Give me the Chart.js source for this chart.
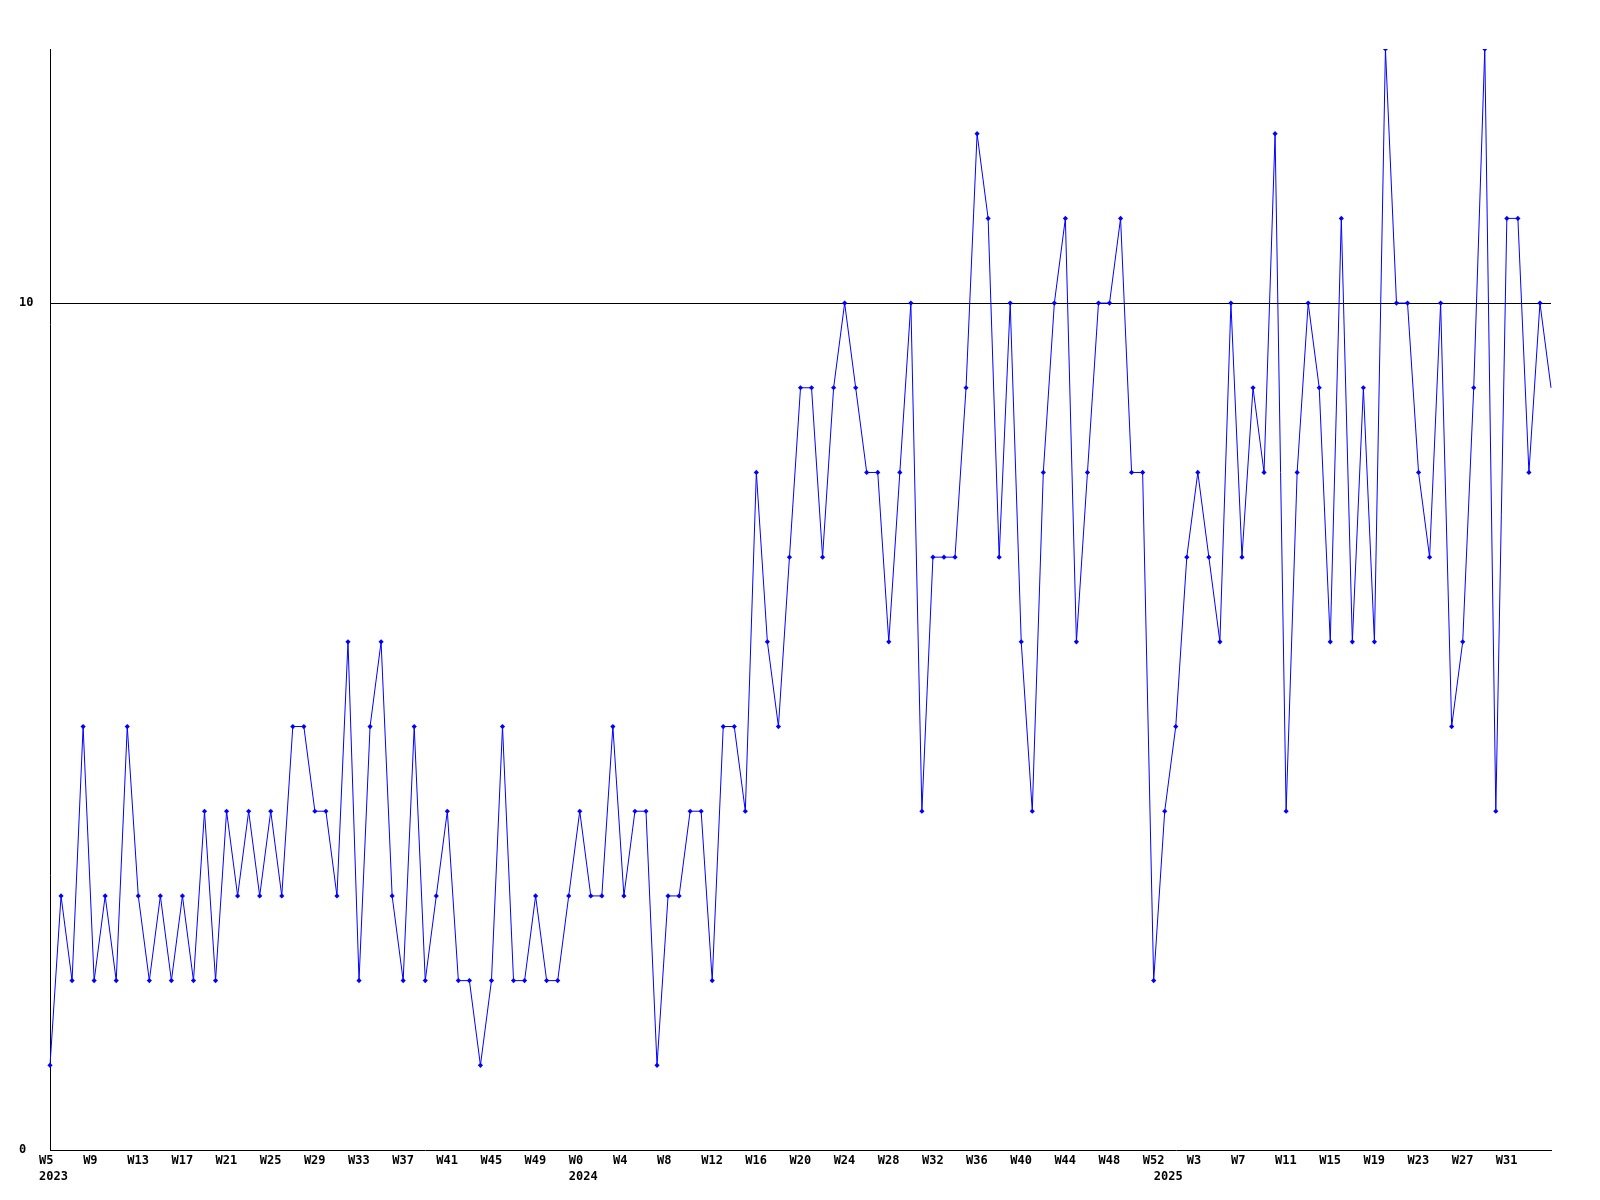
<!DOCTYPE html>
<html>
<head>
<meta charset="utf-8">
<script src="https://cdn.jsdelivr.net/npm/chart.js@4.4.1/dist/chart.umd.min.js"></script>
<style>
  html, body { margin: 0; padding: 0; background: #fff; }
  #wrap { width: 1600px; height: 1200px; }
</style>
</head>
<body>
<div id="wrap"><canvas id="weekly"></canvas></div>
<script>
// weeks on the x axis: [year, first week, last week]
const weekRanges = [[2023, 5, 52], [2024, 0, 52], [2025, 0, 35]];

// one count per week
const counts = [
  1, 3, 2, 5, 2, 3, 2, 5, 3, 2,
  3, 2, 3, 2, 4, 2, 4, 3, 4, 3,
  4, 3, 5, 5, 4, 4, 3, 6, 2, 5,
  6, 3, 2, 5, 2, 3, 4, 2, 2, 1,
  2, 5, 2, 2, 3, 2, 2, 3, 4, 3,
  3, 5, 3, 4, 4, 1, 3, 3, 4, 4,
  2, 5, 5, 4, 8, 6, 5, 7, 9, 9,
  7, 9, 10, 9, 8, 8, 6, 8, 10, 4,
  7, 7, 7, 9, 12, 11, 7, 10, 6, 4,
  8, 10, 11, 6, 8, 10, 10, 11, 8, 8,
  2, 4, 5, 7, 8, 7, 6, 10, 7, 9,
  8, 12, 4, 8, 10, 9, 6, 11, 6, 9,
  6, 13, 10, 10, 8, 7, 10, 5, 6, 9,
  13, 4, 11, 11, 8, 10, 9
];

const yTicks = [0, 10];
const yMax = 13;
const labelEvery = 4;

// category list: "2023-W5", "2023-W6", ...
const weeks = [];
weekRanges.forEach(([year, from, to]) => {
  for (let w = from; w <= to; w++) weeks.push(year + '-W' + w);
});

const font = { family: '"DejaVu Sans Mono", monospace', size: 12, weight: 'bold', lineHeight: 16 / 12 };
const last = counts.length - 1;

function tickLabel(index) {
  const [year, week] = weeks[index].split('-');
  const firstOfYear = index === 0 || weeks[index - 1].split('-')[0] !== year;
  const showWeek = index % labelEvery === 0 && index < last;
  if (firstOfYear) return [showWeek ? week : '', year];
  return showWeek ? week : '';
}

new Chart(document.getElementById('weekly'), {
  type: 'line',
  data: {
    labels: weeks,
    datasets: [{
      data: counts,
      borderColor: '#0000ff',
      backgroundColor: '#0000ff',
      borderWidth: 1,
      tension: 0,
      fill: false,
      pointStyle: 'rectRot',
      pointRadius: ctx => ctx.dataIndex === last ? 0 : 2.6,
      pointBorderWidth: 0,
      pointBackgroundColor: '#0000ff'
    }]
  },
  options: {
    responsive: true,
    maintainAspectRatio: false,
    devicePixelRatio: 1,
    animation: false,
    events: [],
    layout: { padding: { top: 49, right: 49, left: 19, bottom: 0 } },
    plugins: { legend: { display: false }, tooltip: { enabled: false } },
    scales: {
      x: {
        type: 'category',
        offset: false,
        grid: { display: false, drawTicks: false },
        border: { display: true, color: '#000', width: 1 },
        afterFit: scale => { scale.height = 50; },
        ticks: {
          autoSkip: false,
          maxRotation: 0,
          minRotation: 0,
          align: 'start',
          labelOffset: -11,
          padding: 3,
          color: '#000',
          font: font,
          callback: (value, index) => tickLabel(index)
        }
      },
      y: {
        min: 0,
        max: yMax,
        afterBuildTicks: scale => { scale.ticks = yTicks.map(v => ({ value: v })); },
        afterFit: scale => { scale.width = 31; },
        grid: {
          drawTicks: false,
          lineWidth: 1,
          color: ctx => (ctx.tick && ctx.tick.value === 10) ? '#000' : 'rgba(0,0,0,0)'
        },
        border: { display: true, color: '#000', width: 1 },
        ticks: {
          crossAlign: 'far',
          padding: 0,
          color: '#000',
          font: font
        }
      }
    }
  }
});
</script>
</body>
</html>
